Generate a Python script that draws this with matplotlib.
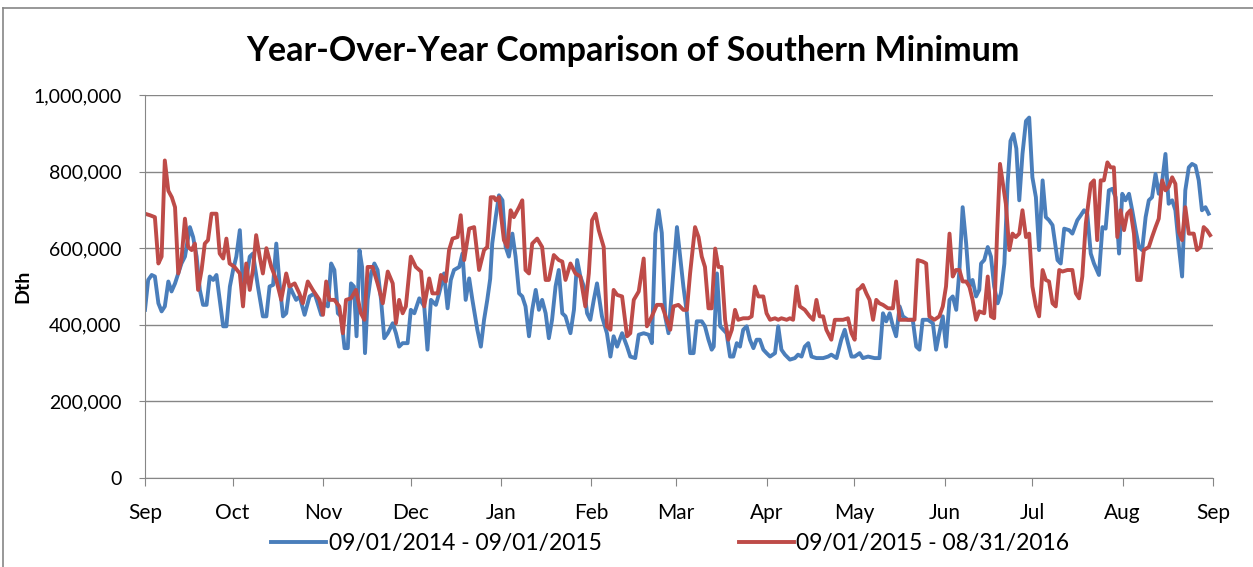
import numpy as np
import pandas as pd
import matplotlib
matplotlib.use('Agg')
import matplotlib.pyplot as plt
from matplotlib.lines import Line2D

plt.rcParams['font.family'] = ['Lato', 'DejaVu Sans']

# daily minimum, thousands of Dth; x = days after Sep 1
blue_day = [0, 1.1, 2.3, 3.4, 4.6, 5.7, 6.8, 8, 9.1, 10.3, 11.4, 12.5, 13.7, 15.4, 16.5, 17.7, 18.8, 19.9,
            21.1, 22.2, 23.4, 24.5, 25.6, 26.8, 27.9, 29.1, 30.2, 31.3, 32.5, 33.6, 34.7, 35.9, 37, 38.7,
            40.4, 41.6, 42.7, 43.9, 45, 46.1, 47.3, 48.4, 49.6, 50.7, 51.8, 53, 54.7, 56.4, 58.1, 59.2,
            60.4, 61.5, 62.7, 63.8, 64.9, 66.1, 67.2, 68.4, 69.5, 70.6, 71.6, 72.5, 73.5, 74.4, 75.4, 76.3,
            77.5, 78.6, 79.7, 80.9, 82, 83.2, 84.9, 86, 87.1, 88.3, 90, 91.1, 92.3, 94, 95.7, 96.8, 98,
            99.7, 100.8, 102.5, 103.7, 104.8, 105.9, 107.7, 108.8, 109.9, 111.1, 112.2, 113.9, 115.1, 116.2,
            117.3, 118.3, 119, 120.2, 121.3, 122.5, 123.6, 124.7, 125.9, 127, 128.2, 129.3, 130.4, 131.6,
            132.7, 133.9, 135, 136.1, 137.3, 138.4, 139.5, 140.7, 141.8, 143, 144.1, 145.8, 147, 148.1,
            149.2, 150.4, 151.5, 152.6, 153.8, 154.9, 156.6, 158.3, 159.5, 160.6, 161.8, 163.5, 165.2,
            166.3, 168, 169.2, 170.9, 172.6, 173.7, 174.9, 176, 177.1, 178.3, 179.4, 180.5, 182.3, 183.4,
            184.5, 185.7, 186.8, 188, 189.1, 190.8, 191.9, 193.1, 194.2, 194.9, 196, 197.1, 198.2, 199.3,
            200.5, 201.6, 202.8, 203.9, 205, 206.2, 207.3, 208.5, 209.6, 210.7, 211.9, 213, 214.2, 215.9,
            217, 218.1, 219.3, 221, 222.7, 223.8, 225, 226.1, 227.3, 228.4, 230.1, 232.4, 234.1, 235.2,
            237, 238.6, 239.8, 240.9, 242.1, 243.2, 244.9, 246, 247.8, 250, 251.7, 252.9, 254, 255.2,
            256.3, 257.4, 258.6, 259.7, 261.4, 263.1, 264.3, 265.4, 266.5, 268.3, 270, 271.1, 272.2,
            273.4, 274.5, 275.7, 276.8, 278, 279.1, 280.2, 281.4, 282.5, 283.6, 284.8, 285.9, 286.5,
            287.6, 288.8, 289.9, 291, 292.2, 293.3, 294.5, 295.6, 296.6, 297.6, 298.6, 299.6, 300.7,
            301.9, 303, 304.1, 305.3, 306.4, 307.6, 308.7, 309.8, 311, 312.7, 313.8, 315, 316.7, 317.8,
            319.5, 320.7, 321.8, 322.9, 324.1, 325.2, 326.9, 328.1, 329.2, 330.3, 331.5, 332.6, 333.8,
            334.9, 336, 337.2, 338.3, 339.5, 340.6, 341.7, 342.9, 344, 345.1, 346.3, 347.4, 348.6, 349.7,
            350.8, 352, 353.1, 354.3, 355.4, 356.5, 357.7, 358.8, 360, 361.1, 362.2, 363.4, 364.5]
blue_val = [439, 517, 530, 526, 456, 435, 448, 513, 487, 508, 534, 560, 578, 655, 629, 578, 491, 452,
            452, 526, 517, 530, 465, 396, 396, 500, 543, 578, 647, 500, 517, 578, 586, 500,
            422, 422, 500, 504, 612, 508, 422, 430, 500, 482, 465, 474, 426, 474, 482, 456,
            426, 456, 448, 560, 543, 430, 422, 339, 339, 508, 500, 370, 595, 551, 326, 465,
            534, 560, 543, 465, 365, 378, 404, 378, 343, 352, 352, 439, 430, 469, 448, 335, 465,
            452, 482, 534, 443, 517, 543, 551, 586, 465, 521, 465, 387, 343, 413,
            465, 520, 612, 681, 738, 725, 603, 578, 638, 578, 482, 474, 448, 370,
            439, 491, 439, 465, 430, 365, 413, 500, 543, 430, 422, 378, 439, 569,
            526, 500, 430, 413, 465, 508, 422, 378, 317, 370, 343, 378, 343,
            317, 313, 374, 378, 374, 352, 638, 699, 640, 420, 378, 482, 655, 578,
            500, 430, 326, 326, 409, 409, 396, 361, 335, 343, 534, 396, 387, 378,
            317, 317, 352, 343, 387, 396, 361, 339, 361, 361, 335, 326, 317, 326,
            396, 335, 322, 309, 313, 322, 317, 343, 352, 317, 313, 313, 317, 322,
            313, 361, 387, 352, 317, 317, 326, 313, 317, 313, 313, 430, 409, 430,
            396, 370, 448, 422, 413, 413, 343, 335, 413, 413, 404, 335, 378,
            422, 343, 465, 474, 439, 543, 707, 612, 500, 517, 474, 491, 560,
            569, 603, 578, 500, 456, 482, 560, 768, 880, 898, 860, 725, 846,
            932, 941, 785, 733, 595, 777, 681, 673, 660, 569, 560, 651, 647, 638,
            673, 686, 699, 690, 586, 560, 530, 655, 651, 751, 755, 733, 586,
            742, 725, 742, 699, 647, 603, 595, 681, 725, 733, 794, 742, 777, 846,
            716, 725, 699, 603, 526, 751, 811, 820, 815, 777, 699, 707, 690]

red_day = [0, 1.7, 3.4, 4.6, 5.7, 6.8, 8, 9.2, 10.3, 11.4, 12.5, 13.7, 14.8, 16, 17.1, 18.2, 19.4, 20.5,
           21.6, 22.8, 24.5, 25.6, 26.8, 27.9, 29, 30.7, 32.5, 33.6, 34.7, 35.9, 37, 38.1, 39.3, 40.4,
           41.6, 43.3, 45, 46.7, 48.4, 49.5, 51.3, 52.9, 54.1, 55.8, 57.5, 59.8, 61, 62.1, 63.2, 64.9,
           66.6, 67.8, 68.9, 70.6, 72.3, 74, 75.2, 76.3, 78, 79.7, 81.5, 83.2, 84.9, 86, 87.1, 88.3,
           89.4, 91.1, 92.8, 94.6, 95.7, 97.4, 98.5, 100.3, 101.4, 103.1, 104.2, 105.4, 107.1, 108.2,
           109.4, 111.1, 112.8, 114.5, 116.2, 117.3, 118.5, 119.6, 120.2, 121.3, 123, 124.2, 125.3,
           126.4, 128.2, 129.3, 130.4, 131.6, 132.7, 134.4, 136.1, 137.3, 138.4, 140.1, 141.8, 143,
           144.1, 145.8, 147.5, 149.2, 150.9, 152.1, 153.2, 154.4, 155.5, 157.2, 158.3, 159.5, 160.6,
           161.8, 163.5, 165.2, 166.3, 167.5, 169.2, 170.9, 172, 173.7, 175.4, 177.1, 178.8, 180,
           181.1, 182.8, 184.5, 185.7, 186.8, 188.5, 189.7, 190.8, 191.9, 193.1, 194.2, 195.4, 196.5,
           197.6, 198.8, 199.9, 201.1, 202.2, 203.3, 205, 206.8, 207.9, 209, 210.2, 211.9, 213, 214.2,
           215.9, 217, 218.1, 219.9, 221, 222.1, 223.3, 224.4, 226.1, 227.8, 229, 230.1, 231.2, 232.4,
           233.5, 235.2, 236.4, 238.1, 239.2, 240.9, 242.1, 243.2, 244.2, 245, 246, 247.2, 248.3,
           249.5, 250.6, 251.7, 252.9, 254.6, 256.3, 257.4, 258.6, 260.3, 262, 263.7, 264.8, 266.5,
           267.7, 268.8, 270.5, 272.2, 273.4, 274.5, 275.7, 276.8, 277.9, 279.1, 280.2, 281.4, 282.5,
           283.6, 284.8, 285.9, 287.6, 288.8, 289.9, 291, 292, 293, 294, 295, 296.2, 297.3, 298.4,
           299.6, 300.7, 301.9, 303, 304.1, 305.3, 306.4, 307.6, 308.7, 309.8, 311, 312.1, 313.3,
           314.4, 316.1, 317.8, 319, 320.1, 321.2, 322.4, 324.1, 325.2, 326.3, 327.5, 328.6, 329.8,
           330.9, 332, 333.2, 334.3, 335.5, 336.6, 337.7, 338.9, 340, 341.2, 342.3, 344, 345.1, 346.3,
           347.4, 348.6, 349.7, 350.8, 352, 353.1, 354.3, 355.4, 356.5, 357.7, 359.4, 360.5, 361.7,
           362.8, 363.9, 365]
red_val = [690, 686, 681, 560, 578, 829, 750, 733, 707, 534, 569, 677, 603, 595, 612, 491, 543, 612,
           621, 690, 690, 586, 573, 625, 560, 551, 534, 448, 560, 491, 543, 634, 578, 534,
           600, 551, 517, 465, 534, 500, 508, 482, 456, 513, 491, 465, 426, 513, 465, 465,
           448, 378, 465, 469, 491, 430, 413, 551, 551, 508, 456, 539, 508, 404, 465, 430,
           448, 578, 551, 539, 448, 521, 482, 482, 530, 513, 595, 625, 629, 686,
           569, 651, 655, 543, 595, 603, 733, 733, 725, 733, 621, 603, 699,
           681, 707, 725, 543, 534, 612, 625, 603, 517, 517, 582, 569, 565,
           517, 560, 534, 526, 448, 534, 673, 690, 647, 603, 396, 387, 491,
           478, 474, 370, 378, 465, 487, 573, 396, 422, 452, 452, 413, 387,
           448, 452, 439, 439, 534, 655, 629, 578, 551, 443, 443, 599, 551,
           551, 413, 361, 387, 439, 413, 417, 417, 422, 500, 474, 474, 430, 413,
           417, 413, 417, 413, 417, 413, 500, 448, 439, 422, 413, 465, 422, 422,
           387, 361, 413, 413, 413, 417, 378, 361, 491, 495, 504, 482, 465,
           413, 465, 456, 452, 443, 443, 513, 413, 413, 413, 413, 569, 565,
           560, 422, 413, 422, 448, 500, 638, 526, 543, 543, 513, 513, 500,
           465, 413, 435, 430, 526, 422, 417, 638, 820, 768, 716, 595, 638, 629,
           638, 699, 629, 638, 500, 448, 422, 543, 517, 513, 456, 448, 543,
           539, 543, 543, 482, 469, 526, 664, 768, 777, 621, 777, 777, 824,
           811, 811, 629, 699, 647, 690, 699, 638, 517, 517, 595, 603, 629, 655,
           677, 777, 751, 760, 785, 768, 642, 621, 707, 638, 638, 595, 603,
           655, 647, 634]

series_labels = ['09/01/2014 - 09/01/2015', '09/01/2015 - 08/31/2016']

months = pd.date_range('2015-09-01', '2016-09-01', freq='MS')
month_pos = (months - months[0]).days
month_lbl = [m.strftime('%b') for m in months]

fig = plt.figure(figsize=(12.53, 5.67), dpi=100)
ax = fig.add_axes([0.1157, 0.157, 0.8524, 0.6755])

ax.plot(blue_day, np.array(blue_val) * 1000, color='#4a7ebb', lw=2.8, label=series_labels[0])
ax.plot(red_day, np.array(red_val) * 1000, color='#be4b48', lw=2.8, label=series_labels[1])

ax.set_xlim(month_pos[0], month_pos[-1])
ax.set_ylim(0, 1000000)
ax.set_yticks(np.arange(0, 1000001, 200000))
ax.yaxis.set_major_formatter(matplotlib.ticker.FuncFormatter(lambda v, p: f'{int(v):,}'))
ax.set_xticks(month_pos)
ax.set_xticklabels(month_lbl)
ax.grid(axis='y', color='#868686', lw=1)
ax.set_axisbelow(True)
for s in ['top', 'right']:
    ax.spines[s].set_visible(False)
for s in ['left', 'bottom']:
    ax.spines[s].set_color('#868686')
ax.tick_params(axis='x', length=6, color='#868686', labelsize=15, pad=12)
ax.tick_params(axis='y', length=4, color='#868686', labelsize=14, pad=13)
ax.set_ylabel('Dth', fontsize=14, fontweight='bold', labelpad=1)

fig.text(0.505, 0.91, 'Year-Over-Year Comparison of Southern Minimum',
         ha='center', va='center', fontsize=24.5, fontweight='bold')

fig.legend(loc='center', bbox_to_anchor=(0.535, 0.042), ncol=2, frameon=False,
           fontsize=16.5, handlelength=2.4, columnspacing=6.0, handletextpad=0.1)

# chart frame
fig.add_artist(Line2D([3 / 1253, 3 / 1253], [0, 1 - 8 / 567], color='#868686', lw=1.2))
fig.add_artist(Line2D([3 / 1253, 1], [1 - 8 / 567, 1 - 8 / 567], color='#868686', lw=1.2))

fig.savefig('out.png', dpi=100)
